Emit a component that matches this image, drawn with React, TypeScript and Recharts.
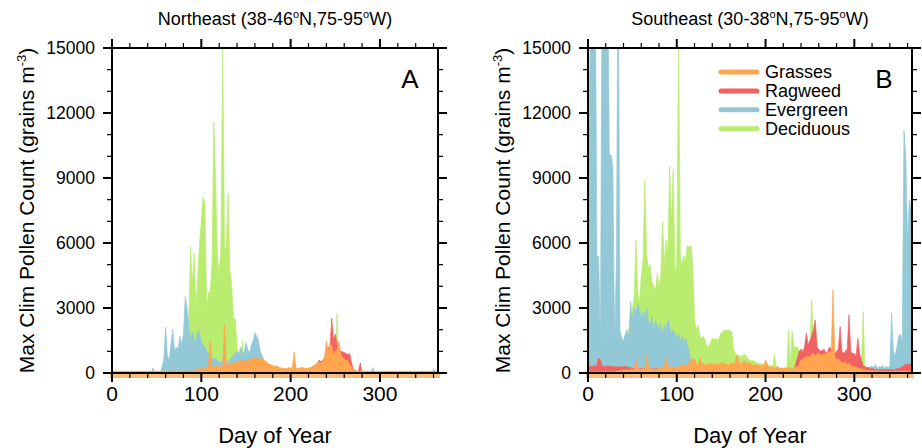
import { Area, AreaChart, XAxis, YAxis } from 'recharts';

// one value every DAY_STEP days, starting at day 0
const DAY_STEP = 2;

const X_TICKS = [0, 20, 40, 60, 80, 100, 120, 140, 160, 180, 200, 220, 240, 260, 280, 300, 320, 340, 360];
const X_LABELED = [0, 100, 200, 300];
const Y_TICKS = [0, 1000, 2000, 3000, 4000, 5000, 6000, 7000, 8000, 9000, 10000, 11000, 12000, 13000, 14000, 15000];
const Y_LABELED = [0, 3000, 6000, 9000, 12000, 15000];

const PANEL_TITLES = ['Northeast', 'Southeast'];
const PANEL_RANGES = [['38-46', '75-95'], ['30-38', '75-95']];
const PANEL_LETTERS = ['A', 'B'];

// ---- Northeast ----
const NE_GRASSES = [
  80, 80, 80, 80, 80, 80, 80, 80, 80, 80,
  80, 80, 80, 80, 80, 80, 80, 80, 80, 80,
  80, 80, 80, 80, 80, 80, 80, 80, 80, 80,
  80, 80, 80, 80, 80, 80, 80, 80, 80, 80,
  80, 80, 80, 80, 80, 80, 100, 150, 180, 200,
  180, 200, 250, 220, 300, 1450, 280, 250, 300, 320,
  300, 280, 320, 2200, 350, 400, 380, 450, 420, 500,
  520, 480, 600, 550, 500, 620, 580, 650, 600, 680,
  720, 650, 700, 620, 680, 600, 550, 450, 400, 380,
  350, 300, 320, 280, 250, 230, 220, 200, 220, 250,
  220, 250, 980, 230, 200, 220, 250, 240, 200, 230,
  220, 250, 300, 350, 400, 450, 500, 450, 550, 700,
  1490, 900, 1400, 1250, 800, 1000, 1100, 1450, 900, 700,
  650, 600, 550, 400, 300, 200, 150, 100, 80, 80,
  80, 80, 80, 80, 80, 80, 80, 80, 80, 80,
  80, 80, 80, 80, 80, 80, 80, 80, 80, 80,
  80, 80, 80, 80, 80, 80, 80, 80, 80, 80,
  80, 80, 80, 80, 80, 80, 80, 80, 80, 80,
  80, 80, 80,
];

const NE_RAGWEED = [
  0, 0, 0, 0, 0, 0, 0, 0, 0, 0,
  0, 0, 0, 0, 0, 0, 0, 0, 0, 0,
  0, 0, 0, 0, 0, 0, 0, 0, 0, 0,
  0, 0, 0, 0, 0, 0, 0, 0, 0, 0,
  0, 0, 0, 0, 0, 0, 0, 0, 0, 0,
  0, 0, 0, 0, 0, 0, 0, 0, 0, 0,
  0, 0, 0, 0, 0, 0, 0, 0, 0, 0,
  0, 0, 0, 0, 0, 0, 0, 0, 0, 0,
  0, 0, 0, 0, 0, 0, 0, 0, 0, 0,
  0, 0, 0, 0, 0, 0, 0, 0, 0, 0,
  0, 0, 0, 0, 0, 0, 0, 0, 0, 0,
  0, 0, 150, 250, 350, 450, 600, 500, 600, 700,
  900, 1200, 1100, 2520, 1500, 1800, 1300, 1100, 1000, 980,
  950, 900, 850, 900, 500, 200, 100, 50, 100, 470,
  0, 0, 0, 0, 0, 0, 0, 0, 0, 0,
  0, 0, 0, 0, 0, 0, 0, 0, 0, 0,
  0, 0, 0, 0, 0, 0, 0, 0, 0, 0,
  0, 0, 0, 0, 0, 0, 0, 0, 0, 0,
  0, 0, 0,
];

const NE_EVERGREEN = [
  0, 0, 0, 0, 0, 0, 0, 0, 0, 0,
  0, 0, 0, 0, 0, 0, 0, 0, 0, 0,
  0, 0, 0, 230, 0, 0, 0, 0, 300, 600,
  2120, 800, 600, 1300, 2030, 1000, 1200, 1100, 1700, 1300,
  1800, 3520, 3000, 2200, 1500, 1900, 1600, 1400, 2000, 1800,
  1500, 1300, 1200, 1000, 900, 800, 700, 600, 700, 600,
  500, 500, 600, 700, 600, 500, 600, 700, 800, 900,
  1000, 900, 1200, 800, 1000, 1400, 1100, 900, 1300, 1500,
  1860, 1700, 1500, 1000, 800, 600, 200, 0, 0, 0,
  0, 0, 0, 0, 0, 0, 0, 0, 0, 0,
  0, 0, 0, 0, 0, 0, 0, 0, 0, 0,
  0, 0, 0, 0, 0, 0, 0, 0, 0, 0,
  0, 0, 0, 0, 0, 0, 0, 0, 0, 0,
  0, 0, 0, 0, 0, 0, 0, 0, 0, 0,
  0, 0, 0, 0, 0, 0, 250, 0, 0, 0,
  0, 0, 0, 0, 0, 0, 0, 0, 0, 0,
  0, 0, 0, 0, 0, 0, 0, 0, 0, 0,
  0, 0, 0, 0, 0, 0, 0, 0, 0, 0,
  200, 0, 0,
];

const NE_DECIDUOUS = [
  0, 0, 0, 0, 0, 0, 0, 0, 0, 0,
  0, 0, 0, 0, 0, 0, 0, 0, 0, 0,
  0, 0, 0, 0, 0, 0, 0, 0, 0, 0,
  0, 0, 0, 0, 0, 0, 0, 0, 0, 0,
  0, 0, 500, 2500, 5830, 4100, 5500, 3000, 4500, 6000,
  7000, 8140, 7800, 3000, 3700, 3700, 5000, 11600, 8880, 5400,
  4500, 6000, 15000, 5700, 5800, 8300, 4700, 4100, 2500, 2500,
  1200, 500, 300, 1490, 200, 100, 50, 0, 0, 0,
  0, 0, 0, 0, 0, 0, 0, 0, 0, 0,
  0, 0, 0, 0, 0, 0, 0, 0, 0, 0,
  0, 0, 0, 0, 0, 0, 0, 0, 0, 0,
  0, 0, 0, 0, 0, 0, 0, 0, 0, 0,
  0, 0, 0, 0, 0, 0, 2750, 0, 0, 0,
  0, 0, 0, 0, 0, 0, 0, 0, 0, 0,
  0, 0, 0, 0, 0, 0, 0, 0, 0, 0,
  0, 0, 0, 0, 0, 0, 0, 0, 0, 0,
  0, 0, 0, 0, 0, 0, 0, 0, 0, 0,
  0, 0, 0, 0, 0, 0, 0, 0, 0, 0,
  0, 0, 0,
];

// ---- Southeast ----
const SE_GRASSES = [
  50, 50, 50, 50, 50, 50, 50, 50, 50, 50,
  50, 50, 50, 50, 50, 50, 80, 100, 120, 100,
  150, 120, 150, 130, 180, 150, 200, 600, 150, 200,
  150, 200, 180, 830, 250, 200, 180, 150, 200, 180,
  200, 250, 200, 300, 700, 300, 250, 300, 250, 200,
  250, 300, 350, 300, 400, 350, 300, 450, 650, 600,
  650, 400, 350, 700, 400, 450, 350, 400, 380, 420,
  400, 450, 380, 420, 400, 450, 500, 420, 400, 380,
  400, 450, 420, 500, 850, 450, 400, 500, 550, 450,
  500, 450, 400, 350, 400, 350, 380, 300, 350, 300,
  600, 400, 300, 250, 300, 200, 250, 300, 200, 250,
  200, 250, 200, 300, 200, 150, 200, 300, 250, 400,
  600, 650, 700, 750, 800, 700, 850, 900, 800, 850,
  900, 850, 800, 900, 850, 950, 1000, 900, 3830, 800,
  600, 650, 550, 500, 450, 500, 400, 450, 350, 300,
  300, 250, 250, 200, 200, 150, 150, 120, 120, 100,
  100, 100, 90, 90, 80, 80, 80, 80, 80, 80,
  80, 80, 80, 80, 80, 80, 80, 80, 80, 80,
  80, 80, 80,
];

const SE_RAGWEED = [
  320, 320, 300, 320, 320, 320, 690, 600, 320, 300,
  300, 320, 300, 320, 300, 280, 300, 280, 300, 280,
  280, 300, 280, 250, 250, 230, 220, 200, 200, 200,
  200, 180, 200, 180, 200, 200, 180, 200, 180, 200,
  180, 200, 180, 200, 180, 200, 180, 180, 200, 180,
  180, 170, 180, 170, 180, 170, 160, 170, 160, 160,
  150, 150, 150, 150, 150, 150, 150, 150, 150, 150,
  150, 150, 150, 150, 150, 150, 150, 150, 150, 150,
  150, 150, 150, 150, 150, 150, 150, 150, 150, 150,
  150, 150, 150, 150, 150, 150, 150, 150, 150, 150,
  150, 150, 150, 150, 150, 150, 150, 150, 150, 150,
  150, 150, 150, 150, 150, 150, 150, 450, 700, 1000,
  1100, 1000, 1200, 1850, 1300, 1500, 1700, 2000, 2450, 1200,
  1100, 1000, 1050, 1100, 900, 1000, 1200, 1100, 1000, 900,
  1000, 1100, 2140, 1000, 900, 1000, 1100, 2680, 1000, 900,
  900, 800, 1600, 900, 600, 300, 300, 250, 250, 200,
  200, 200, 150, 150, 150, 150, 150, 150, 150, 150,
  150, 150, 150, 150, 200, 200, 250, 300, 350, 400,
  400, 420, 400,
];

// spikes that leave the top of the frame are given as 20000
const SE_EVERGREEN = [
  8000, 14000, 20000, 20000, 20000, 5400, 5400, 1400, 20000, 20000,
  20000, 20000, 10060, 10060, 9500, 1400, 5000, 20000, 2000, 1600,
  1500, 1800, 2000, 1600, 3300, 2500, 3000, 2800, 3200, 3000,
  2500, 2800, 2600, 3000, 2400, 2200, 2600, 2000, 2400, 2200,
  2000, 2300, 1800, 2200, 2000, 2500, 2200, 1800, 2000, 1800,
  1600, 1800, 1500, 1700, 1400, 1600, 1300, 1000, 500, 0,
  0, 0, 0, 0, 0, 0, 0, 0, 0, 0,
  0, 0, 0, 0, 0, 0, 0, 0, 0, 0,
  0, 0, 0, 0, 0, 0, 0, 0, 0, 0,
  0, 0, 0, 0, 0, 0, 0, 0, 0, 0,
  0, 0, 0, 0, 0, 0, 0, 0, 0, 0,
  0, 0, 0, 0, 0, 0, 0, 0, 0, 0,
  0, 0, 0, 0, 0, 0, 0, 0, 0, 0,
  0, 0, 0, 0, 0, 0, 0, 0, 0, 0,
  0, 0, 0, 0, 0, 0, 0, 0, 0, 0,
  0, 0, 0, 0, 0, 0, 150, 230, 200, 300,
  300, 250, 400, 200, 300, 250, 350, 200, 300, 250,
  300, 2770, 1000, 800, 1200, 1700, 1800, 1400, 11200, 10000,
  6000, 8000, 7500,
];

const SE_DECIDUOUS = [
  0, 0, 0, 0, 0, 0, 0, 0, 0, 0,
  0, 0, 0, 0, 0, 0, 0, 0, 0, 0,
  0, 0, 500, 2000, 2500, 3000, 3500, 6140, 3800, 3200,
  4500, 5200, 8900, 5500, 4800, 5000, 4200, 4000, 3800, 4600,
  4000, 4500, 7000, 5000, 6140, 5500, 9520, 7000, 9400, 4600,
  5000, 15500, 5400, 5000, 5400, 5200, 5900, 5800, 5900, 5000,
  2500, 2000, 2200, 1700, 1600, 1700, 1500, 1200, 1250, 1400,
  1600, 1550, 1600, 1500, 1650, 1850, 1900, 2000, 1950, 2000,
  1950, 1900, 1100, 900, 800, 800, 750, 800, 850, 800,
  650, 600, 550, 600, 500, 500, 450, 400, 450, 400,
  400, 350, 300, 350, 300, 850, 300, 250, 200, 200,
  200, 200, 250, 2000, 300, 1950, 1200, 1200, 1200, 1000,
  900, 800, 900, 1000, 1100, 1200, 3370, 1300, 2300, 1200,
  1000, 900, 800, 700, 600, 500, 400, 300, 300, 300,
  300, 300, 250, 250, 200, 200, 200, 200, 200, 200,
  200, 200, 200, 200, 200, 2830, 100, 0, 0, 0,
  0, 0, 0, 0, 0, 0, 0, 0, 0, 0,
  0, 0, 0, 0, 0, 0, 0, 0, 0, 0,
  0, 0, 0,
];

// legend order; drawn in reverse so grasses sits on top
const SERIES = [
  { key: 'grasses', name: 'Grasses', color: '#FFA54F' },
  { key: 'ragweed', name: 'Ragweed', color: '#F26262' },
  { key: 'evergreen', name: 'Evergreen', color: '#93C9D6' },
  { key: 'deciduous', name: 'Deciduous', color: '#B9EC6F' },
];

const FONT = '"Liberation Sans", Arial, Helvetica, sans-serif';
const PANEL_W = 461;
const CHART_H = 448;

function buildRows(grasses: number[], ragweed: number[], evergreen: number[], deciduous: number[]) {
  return grasses.map((g, i) => ({
    day: i * DAY_STEP,
    grasses: g,
    ragweed: ragweed[i],
    evergreen: evergreen[i],
    deciduous: deciduous[i],
  }));
}

const NE_ROWS = buildRows(NE_GRASSES, NE_RAGWEED, NE_EVERGREEN, NE_DECIDUOUS);
const SE_ROWS = buildRows(SE_GRASSES, SE_RAGWEED, SE_EVERGREEN, SE_DECIDUOUS);

const isMajorX = (v: number) => X_LABELED.includes(v);
const isMajorY = (v: number) => Y_LABELED.includes(v);

function BottomTick(props: any) {
  const { x, y, payload } = props;
  const major = isMajorX(payload.value);
  return (
    <g>
      <line x1={x} x2={x} y1={y} y2={y + (major ? 9 : 5)} stroke="#000" strokeWidth={major ? 2 : 1.2} />
      {major && (
        <text x={x} y={y + 28} textAnchor="middle" fontSize={21} fontFamily={FONT} fill="#000">
          {payload.value}
        </text>
      )}
    </g>
  );
}

function TopTick(props: any) {
  const { x, y, payload } = props;
  const major = isMajorX(payload.value);
  return <line x1={x} x2={x} y1={y} y2={y - (major ? 9 : 5)} stroke="#000" strokeWidth={major ? 2 : 1.2} />;
}

function LeftTick(props: any) {
  const { x, y, payload } = props;
  const major = isMajorY(payload.value);
  return (
    <g>
      <line x1={x} x2={x - (major ? 9 : 5)} y1={y} y2={y} stroke="#000" strokeWidth={major ? 2 : 1.2} />
      {major && (
        <text x={x - 17} y={y} dy="0.36em" textAnchor="end" fontSize={17.5} fontFamily={FONT} fill="#000">
          {payload.value}
        </text>
      )}
    </g>
  );
}

function RightTick(props: any) {
  const { x, y, payload } = props;
  const major = isMajorY(payload.value);
  return <line x1={x} x2={x + (major ? 9 : 5)} y1={y} y2={y} stroke="#000" strokeWidth={major ? 2 : 1.2} />;
}

const AXIS_LINE = { stroke: '#000', strokeWidth: 2 };

function Panel({ rows, left, rightMargin }: { rows: any[]; left: number; rightMargin: number }) {
  return (
    <AreaChart
      width={PANEL_W}
      height={CHART_H}
      data={rows}
      margin={{ top: 38, right: rightMargin, bottom: 45, left }}
    >
      {[...SERIES].reverse().map((s) => (
        <Area
          key={s.key}
          type="linear"
          dataKey={s.key}
          name={s.name}
          stroke={s.color}
          strokeWidth={0.7}
          fill={s.color}
          fillOpacity={1}
          dot={false}
          activeDot={false}
          isAnimationActive={false}
        />
      ))}
      <XAxis
        dataKey="day"
        type="number"
        domain={[0, 365]}
        allowDataOverflow
        ticks={X_TICKS}
        interval={0}
        tickSize={0}
        tickMargin={0}
        tickLine={false}
        axisLine={AXIS_LINE}
        tick={BottomTick}
        height={30}
      />
      <XAxis
        xAxisId="top"
        orientation="top"
        dataKey="day"
        type="number"
        domain={[0, 365]}
        allowDataOverflow
        ticks={X_TICKS}
        interval={0}
        tickSize={0}
        tickMargin={0}
        tickLine={false}
        axisLine={AXIS_LINE}
        tick={TopTick}
        height={10}
      />
      <YAxis
        type="number"
        domain={[0, 15000]}
        allowDataOverflow
        ticks={Y_TICKS}
        interval={0}
        tickSize={0}
        tickMargin={0}
        tickLine={false}
        axisLine={AXIS_LINE}
        tick={LeftTick}
        width={60}
      />
      <YAxis
        yAxisId="right"
        orientation="right"
        type="number"
        domain={[0, 15000]}
        allowDataOverflow
        ticks={Y_TICKS}
        interval={0}
        tickSize={0}
        tickMargin={0}
        tickLine={false}
        axisLine={AXIS_LINE}
        tick={RightTick}
        width={10}
      />
    </AreaChart>
  );
}

function Title({ cx, idx }: { cx: number; idx: number }) {
  const [lat, lon] = PANEL_RANGES[idx];
  return (
    <text x={cx} y={25} textAnchor="middle" fontSize={18} fontFamily={FONT}>
      {PANEL_TITLES[idx]} ({lat}
      <tspan fontSize={11} dy={-7}>o</tspan>
      <tspan dy={7}>N,{lon}</tspan>
      <tspan fontSize={11} dy={-7}>o</tspan>
      <tspan dy={7}>W)</tspan>
    </text>
  );
}

function YLabel({ cx }: { cx: number }) {
  return (
    <text
      x={cx}
      y={210.5}
      transform={`rotate(-90 ${cx} 210.5)`}
      textAnchor="middle"
      dy="0.35em"
      fontSize={21}
      fontFamily={FONT}
    >
      Max Clim Pollen Count (grains m
      <tspan fontSize={13} dy={-8}>-3</tspan>
      <tspan dy={8}>)</tspan>
    </text>
  );
}

export default function App() {
  const plots = [
    { left: 112, right: 438 },
    { left: 588, right: 912 },
  ];
  return (
    <div style={{ position: 'absolute', left: 0, top: 0, width: 922, height: 448, overflow: 'hidden', background: '#fff' }}>
      {/* faint orange band under each frame */}
      <svg width={922} height={448} style={{ position: 'absolute', left: 0, top: 0 }}>
        {plots.map((p, i) => (
          <rect key={i} x={p.left - 2} y={374} width={p.right - p.left + 4} height={4} fill="#FFA54F" opacity={0.75} />
        ))}
      </svg>
      <div style={{ position: 'absolute', left: 0, top: 0 }}>
        <Panel rows={NE_ROWS} left={52} rightMargin={13} />
      </div>
      <div style={{ position: 'absolute', left: PANEL_W, top: 0 }}>
        <Panel rows={SE_ROWS} left={67} rightMargin={0} />
      </div>
      <svg width={922} height={448} style={{ position: 'absolute', left: 0, top: 0, pointerEvents: 'none' }}>
        {plots.map((p, i) => (
          <g key={i}>
            <Title cx={(p.left + p.right) / 2} idx={i} />
            <YLabel cx={p.left - 85} />
            <text x={(p.left + p.right) / 2} y={443} textAnchor="middle" fontSize={22} fontFamily={FONT}>
              Day of Year
            </text>
            <text x={p.right - 28} y={88} textAnchor="middle" fontSize={26} fontFamily={FONT}>
              {PANEL_LETTERS[i]}
            </text>
          </g>
        ))}
        {SERIES.map((s, i) => (
          <g key={s.key}>
            <line x1={721} x2={757} y1={72 + i * 18.9} y2={72 + i * 18.9} stroke={s.color} strokeWidth={5} strokeLinecap="round" />
            <text x={765} y={72 + i * 18.9} dy="0.36em" fontSize={18} fontFamily={FONT}>
              {s.name}
            </text>
          </g>
        ))}
      </svg>
    </div>
  );
}
